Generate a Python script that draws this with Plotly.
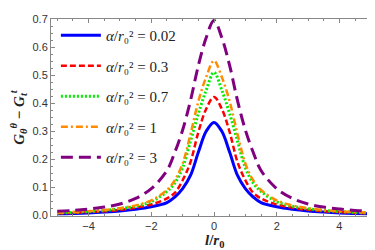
import plotly.graph_objects as go

x = [-5, -4.5, -4, -3.5, -3, -2.5, -2, -1.5, -1.25, -1, -0.75, -0.5, -0.25,
     0, 0.25, 0.5, 0.75, 1, 1.25, 1.5, 2, 2.5, 3, 3.5, 4, 4.5, 5]

g002 = [0.005, 0.006, 0.008, 0.011, 0.015, 0.021, 0.030, 0.045, 0.065, 0.095, 0.142, 0.225, 0.300,
        0.332, 0.300, 0.225, 0.142, 0.095, 0.065, 0.045, 0.030, 0.021, 0.015, 0.011, 0.008, 0.006, 0.005]
g03 = [0.007, 0.008, 0.011, 0.014, 0.019, 0.027, 0.038, 0.060, 0.080, 0.125, 0.190, 0.297, 0.380,
       0.423, 0.380, 0.297, 0.190, 0.125, 0.080, 0.060, 0.038, 0.027, 0.019, 0.014, 0.011, 0.008, 0.007]
g07 = [0.008, 0.010, 0.013, 0.017, 0.023, 0.032, 0.048, 0.085, 0.115, 0.170, 0.265, 0.363, 0.447,
       0.511, 0.447, 0.363, 0.265, 0.170, 0.115, 0.085, 0.048, 0.032, 0.023, 0.017, 0.013, 0.010, 0.008]
g1 = [0.009, 0.011, 0.014, 0.018, 0.025, 0.035, 0.053, 0.090, 0.125, 0.185, 0.290, 0.407, 0.494,
      0.553, 0.494, 0.407, 0.290, 0.185, 0.125, 0.090, 0.053, 0.035, 0.025, 0.018, 0.014, 0.011, 0.009]
g3 = [0.014, 0.017, 0.022, 0.029, 0.040, 0.060, 0.095, 0.160, 0.225, 0.305, 0.410, 0.535, 0.635,
      0.697, 0.635, 0.535, 0.410, 0.305, 0.225, 0.160, 0.095, 0.060, 0.040, 0.029, 0.022, 0.017, 0.014]

labels = ["0.02", "0.3", "0.7", "1", "3"]
series = [g002, g03, g07, g1, g3]
colors = ["#0000ff", "#ff0000", "#00ee00", "#ff8c00", "#800080"]
dashes = ["solid", "6px,3px", "2px,2px", "7px,3px,2px,3px", "12px,6px"]
widths = [3, 2.5, 3, 2.5, 3]

SERIF = "Liberation Serif"

fig = go.Figure()
for i, (lab, y) in enumerate(zip(labels, series)):
    fig.add_trace(go.Scatter(
        x=x, y=y, mode="lines", line_shape="spline",
        line=dict(color=colors[i], dash=dashes[i], width=widths[i]),
        name="<i>α</i>/<i>r</i>₀² = " + lab,
        legendgroup=str(i),
    ))

axis_common = dict(
    showgrid=False, zeroline=False, showline=True, linecolor="#888888", linewidth=1,
    mirror="ticks", ticks="inside", ticklen=4, tickcolor="#888888",
    tickfont=dict(family="Liberation Sans", size=11, color="#333333"),
    minor=dict(ticks="inside", ticklen=2, tickcolor="#888888"),
)

fig.update_layout(
    width=375, height=250,
    margin=dict(l=43, r=5, t=7, b=42),
    plot_bgcolor="white", paper_bgcolor="white",
    showlegend=True,
    legend=dict(x=0.015, y=1.0, xanchor="left", yanchor="top",
                bgcolor="rgba(0,0,0,0)", itemwidth=40, tracegroupgap=8,
                font=dict(family=SERIF, size=15, color="#222222")),
    xaxis=dict(range=[-5.2, 5.2], tickvals=[-4, -2, 0, 2, 4], ticktext=["−4", "−2", "0", "2", "4"],
               **axis_common),
    yaxis=dict(range=[-0.003, 0.702], tickvals=[0, 0.1, 0.2, 0.3, 0.4, 0.5, 0.6, 0.7],
               ticktext=["0.0", "0.1", "0.2", "0.3", "0.4", "0.5", "0.6", "0.7"],
               title=dict(text="<b><i>G</i><sub><i>θ</i></sub><sup><i>θ</i></sup> − <i>G</i><sub><i>t</i></sub><sup><i>t</i></sup></b>",
                          standoff=4,
                          font=dict(family=SERIF, size=15, color="#222222")),
               **axis_common),
    annotations=[dict(text="<b><i>l</i>/<i>r</i><sub>0</sub></b>", xref="paper", yref="paper",
                      x=0.5, y=-0.125, xanchor="center", yanchor="middle", showarrow=False,
                      font=dict(family=SERIF, size=15, color="#222222"))],
)
fig.update_xaxes(minor=dict(dtick=0.5, tick0=0))
fig.update_yaxes(minor=dict(dtick=0.025, tick0=0))

fig.write_html("out.html")
